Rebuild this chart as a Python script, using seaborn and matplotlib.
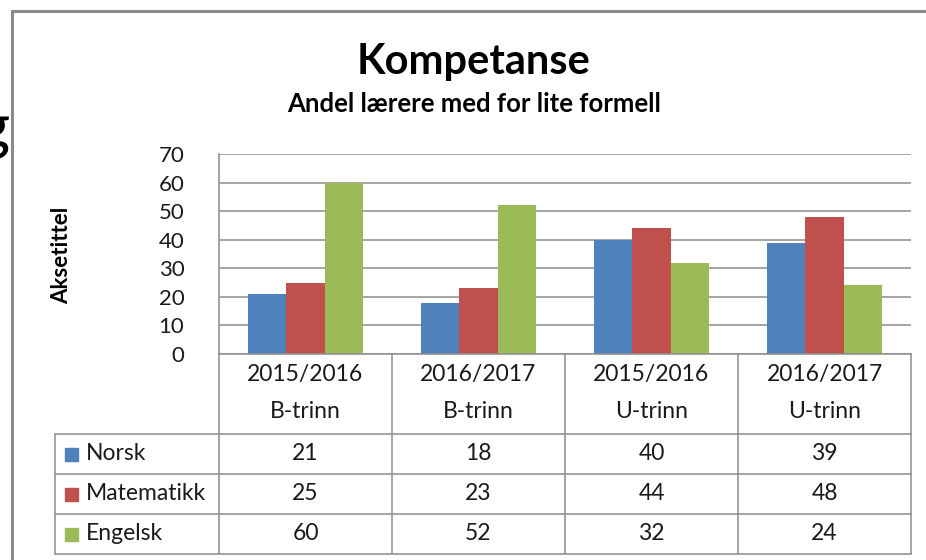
import matplotlib
matplotlib.use("Agg")
import matplotlib.pyplot as plt
from matplotlib.lines import Line2D
from matplotlib.patches import Rectangle
import seaborn as sns
import pandas as pd

# ---- data ----
years = ["2015/2016", "2016/2017", "2015/2016", "2016/2017"]
levels = ["B-trinn", "B-trinn", "U-trinn", "U-trinn"]
series_names = ["Norsk", "Matematikk", "Engelsk"]
norsk = [21, 18, 40, 39]
matematikk = [25, 23, 44, 48]
engelsk = [60, 52, 32, 24]
yticks = [0, 10, 20, 30, 40, 50, 60, 70]
colors = ["#4F81BD", "#C0504D", "#9BBB59"]

categories = [f"{y}\n{l}" for y, l in zip(years, levels)]
values = [norsk, matematikk, engelsk]
rows = []
for s, vals in zip(series_names, values):
    for c, v in zip(categories, vals):
        rows.append({"cat": c, "serie": s, "val": v})
df = pd.DataFrame(rows)

sns.set_style("white")
plt.rcParams["font.family"] = ["Lato", "DejaVu Sans"]

W, H = 926, 560
fig = plt.figure(figsize=(W / 100, H / 100), dpi=100)

def fx(x):
    return x / W

def fy(y):
    return 1 - y / H

L, R, T, B = 219, 911, 154, 354
ax = fig.add_axes([fx(L), fy(B), (R - L) / W, (B - T) / H])
sns.barplot(data=df, x="cat", y="val", hue="serie", order=categories,
            hue_order=series_names, palette=colors, width=0.665,
            saturation=1, ax=ax, legend=False, edgecolor="none", linewidth=0)
ax.set_ylim(0, 70)
ax.set_xlim(-0.5, len(categories) - 0.5)
ax.set_yticks(yticks)
ax.set_yticklabels([str(t) for t in yticks], fontsize=16, color="#1a1a1a")
ax.tick_params(axis="y", length=0, pad=25)
ax.set_xticks([])
ax.set_xlabel("")
ax.set_ylabel("")
ax.grid(axis="y", color="#8c8c8c", linewidth=1.1)
ax.set_axisbelow(True)
for sp in ["top", "right"]:
    ax.spines[sp].set_visible(False)
ax.spines["left"].set_color("#8c8c8c")
ax.spines["bottom"].set_color("#8c8c8c")
ax.spines["left"].set_linewidth(1.1)
ax.spines["bottom"].set_linewidth(1.1)

# ---- data table ----
lc = "#8c8c8c"
lw = 1.1
colw = (R - L) / len(categories)
bounds = [L + i * colw for i in range(len(categories) + 1)]
TL = 55
row_lines = [434, 474, 514, 554]

def hline(x0, x1, y):
    fig.add_artist(Line2D([fx(x0), fx(x1)], [fy(y), fy(y)], color=lc, lw=lw))

def vline(x, y0, y1):
    fig.add_artist(Line2D([fx(x), fx(x)], [fy(y0), fy(y1)], color=lc, lw=lw))

for y in row_lines:
    hline(TL, R, y)
vline(TL, 434, 554)
vline(L, B, 554)
for b in bounds[1:]:
    vline(b, B, 554)

tc = "#1a1a1a"
fs = 16.5
for i in range(len(categories)):
    cx = (bounds[i] + bounds[i + 1]) / 2
    fig.text(fx(cx), fy(375), years[i], ha="center", va="center", fontsize=fs, color=tc)
    fig.text(fx(cx), fy(412), levels[i], ha="center", va="center", fontsize=fs, color=tc)
    for r, vals in enumerate(values):
        ry = (row_lines[r] + row_lines[r + 1]) / 2
        fig.text(fx(cx), fy(ry), str(vals[i]), ha="center", va="center", fontsize=fs, color=tc)

for r, (s, col) in enumerate(zip(series_names, colors)):
    ry = (row_lines[r] + row_lines[r + 1]) / 2
    fig.add_artist(Rectangle((fx(65), fy(ry + 6.5)), 13 / W, 13 / H, color=col,
                             transform=fig.transFigure))
    fig.text(fx(86), fy(ry), s, ha="left", va="center", fontsize=fs, color=tc)

# ---- titles ----
fig.text(fx(474), fy(62), "Kompetanse", ha="center", va="center",
         fontsize=30, fontweight="bold", color="black")
fig.text(fx(474), fy(104), "Andel lærere med for lite formell", ha="center", va="center",
         fontsize=18.5, fontweight="bold", color="black")
fig.text(fx(62), fy(255), "Aksetittel", ha="center", va="center", rotation=90,
         fontsize=16, fontweight="bold", color="black")

# ---- chart border and background fragment ----
fig.add_artist(Line2D([fx(12), fx(12)], [fy(11), fy(H + 5)], color="#8a8a8a", lw=2.2))
fig.add_artist(Line2D([fx(12), fx(W + 5)], [fy(11), fy(11)], color="#8a8a8a", lw=2.2))
fig.text(fx(10), fy(148), "g", ha="right", va="baseline", fontsize=46, color="black",
         zorder=0)

fig.savefig("out.png", dpi=100)
